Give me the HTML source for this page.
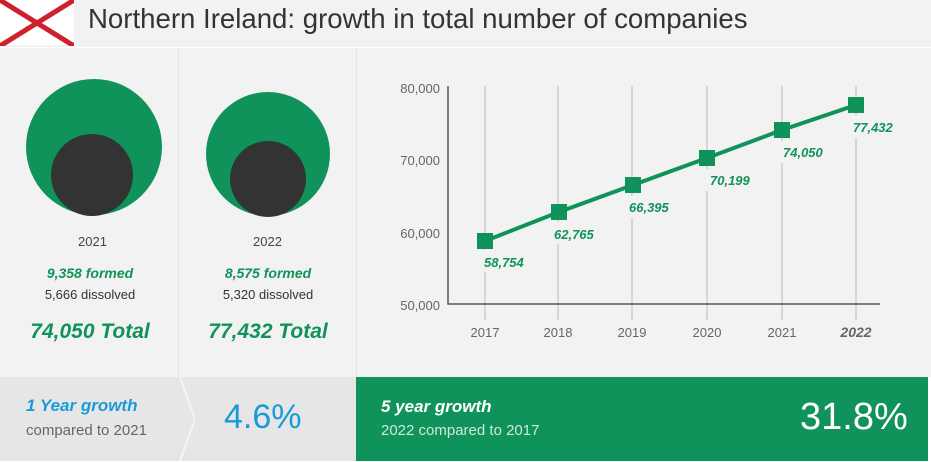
<!DOCTYPE html>
<html><head><style>
body{margin:0;width:931px;height:462px;background:#fff;font-family:"Liberation Sans",sans-serif;overflow:hidden;position:relative}
.a{position:absolute}
</style></head><body>
<div class="a" style="left:0;top:0;width:931px;height:47px;background:#f2f2f2"></div>
<div class="a" style="left:0;top:0;width:74px;height:45px;background:#fff"></div>
<svg class="a" style="left:0;top:0" width="74" height="46"><line x1="0" y1="0" x2="74" y2="46" stroke="#d0202e" stroke-width="5"/><line x1="74" y1="0" x2="0" y2="46" stroke="#d0202e" stroke-width="5"/></svg>
<div class="a" style="left:88px;top:3px;font-size:27.6px;color:#333">Northern Ireland: growth in total number of companies</div>
<div class="a" style="left:0;top:48px;width:931px;height:329px;background:#f2f2f2"></div>
<div class="a" style="left:178px;top:48px;width:1px;height:329px;background:#e2e2e2"></div>
<div class="a" style="left:356px;top:48px;width:1px;height:329px;background:#e2e2e2"></div>
<svg class="a" style="left:0;top:0" width="931" height="377">
<circle cx="94" cy="147" r="68" fill="#10935b"/><circle cx="92" cy="175" r="41" fill="#333"/>
<circle cx="268" cy="154" r="62" fill="#10935b"/><circle cx="268" cy="179" r="38" fill="#333"/>
<g stroke="#ccc" stroke-width="1.5">
<line x1="485" y1="86" x2="485" y2="320"/><line x1="558" y1="86" x2="558" y2="320"/><line x1="632" y1="86" x2="632" y2="320"/><line x1="707" y1="86" x2="707" y2="320"/><line x1="782" y1="86" x2="782" y2="320"/><line x1="856" y1="86" x2="856" y2="320"/>
</g>
<g fill="#f2f2f2"><rect x="450" y="250" width="80" height="22"/><rect x="525" y="222" width="80" height="22"/><rect x="600" y="196" width="80" height="22"/><rect x="675" y="169" width="80" height="22"/><rect x="750" y="141" width="80" height="22"/><rect x="825" y="116" width="80" height="22"/></g>
<polyline points="448,86 448,304 880,304" fill="none" stroke="#555" stroke-width="1.5"/>
<g font-size="13" fill="#666" text-anchor="end"><text x="440" y="93">80,000</text><text x="440" y="165">70,000</text><text x="440" y="238">60,000</text><text x="440" y="310">50,000</text></g>
<g font-size="13" fill="#666" text-anchor="middle"><text x="485" y="337">2017</text><text x="558" y="337">2018</text><text x="632" y="337">2019</text><text x="707" y="337">2020</text><text x="782" y="337">2021</text><text x="856" y="337" font-weight="bold" font-style="italic" font-size="14">2022</text></g>
<polyline points="485,241 559,212 633,185 707,158 782,130 856,105" fill="none" stroke="#10935b" stroke-width="4"/>
<g fill="#10935b"><rect x="477" y="233" width="16" height="16"/><rect x="551" y="204" width="16" height="16"/><rect x="625" y="177" width="16" height="16"/><rect x="699" y="150" width="16" height="16"/><rect x="774" y="122" width="16" height="16"/><rect x="848" y="97" width="16" height="16"/></g>
<g font-size="13" fill="#10935b" font-weight="bold" font-style="italic"><text x="484" y="267">58,754</text><text x="554" y="239">62,765</text><text x="629" y="212">66,395</text><text x="710" y="185">70,199</text><text x="783" y="157">74,050</text><text x="853" y="132">77,432</text></g>
</svg>
<div class="a" style="left:0;top:234px;width:185px;text-align:center;font-size:13px;color:#444">2021</div>
<div class="a" style="left:175px;top:234px;width:185px;text-align:center;font-size:13px;color:#444">2022</div>
<div class="a" style="left:0;top:265px;width:180px;text-align:center;font-size:14px;color:#10935b;font-weight:bold;font-style:italic">9,358 formed</div>
<div class="a" style="left:178px;top:265px;width:180px;text-align:center;font-size:14px;color:#10935b;font-weight:bold;font-style:italic">8,575 formed</div>
<div class="a" style="left:0;top:287px;width:180px;text-align:center;font-size:13px;color:#333">5,666 dissolved</div>
<div class="a" style="left:178px;top:287px;width:180px;text-align:center;font-size:13px;color:#333">5,320 dissolved</div>
<div class="a" style="left:0;top:320px;width:180px;text-align:center;font-size:21px;color:#10935b;font-weight:bold;font-style:italic">74,050 Total</div>
<div class="a" style="left:178px;top:320px;width:180px;text-align:center;font-size:21px;color:#10935b;font-weight:bold;font-style:italic">77,432 Total</div>
<div class="a" style="left:0;top:377px;width:356px;height:84px;background:#e6e6e6"></div>
<svg class="a" style="left:175px;top:377px" width="20" height="84"><polyline points="5,0 20,42 5,84" fill="none" stroke="#f4f4f4" stroke-width="2"/></svg>
<div class="a" style="left:26px;top:396px;font-size:17px;color:#1a9ad6;font-weight:bold;font-style:italic">1 Year growth</div>
<div class="a" style="left:26px;top:422px;font-size:15px;color:#666">compared to 2021</div>
<div class="a" style="left:224px;top:398px;font-size:34px;color:#1a9ad6">4.6%</div>
<div class="a" style="left:356px;top:377px;width:572px;height:84px;background:#10935b"></div>
<div class="a" style="left:381px;top:397px;font-size:17px;color:#fff;font-weight:bold;font-style:italic">5 year growth</div>
<div class="a" style="left:381px;top:422px;font-size:15px;color:#cfe8dc">2022 compared to 2017</div>
<div class="a" style="left:800px;top:396px;font-size:38px;color:#fff">31.8%</div>
</body></html>
